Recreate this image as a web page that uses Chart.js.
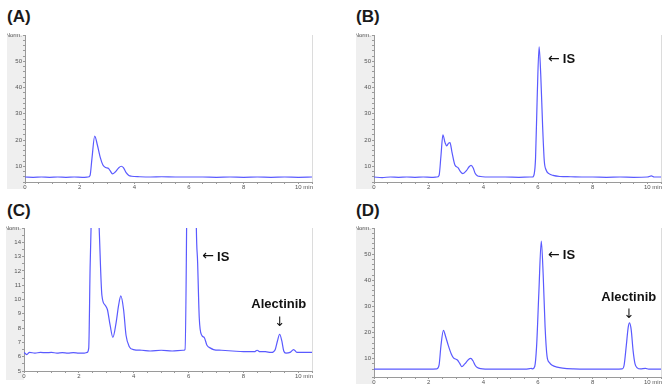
<!DOCTYPE html>
<html>
<head>
<meta charset="utf-8">
<script src="https://cdn.jsdelivr.net/npm/chart.js@4/dist/chart.umd.min.js"></script>
<style>
  html, body { margin: 0; padding: 0; background: #ffffff; }
  body { width: 669px; height: 388px; position: relative; overflow: hidden; font-family: "Liberation Sans", Arial, sans-serif; }
  canvas { position: absolute; }
  .ttl { position: absolute; font: bold 17px "Liberation Sans", Arial, sans-serif; color: #1a1a1a; line-height: 17px; }
</style>
</head>
<body>
<div class="ttl" style="left:7px;top:8px">(A)</div>
<div class="ttl" style="left:356px;top:8px">(B)</div>
<div class="ttl" style="left:7px;top:202px">(C)</div>
<div class="ttl" style="left:356px;top:202px">(D)</div>
<canvas id="cA" width="334" height="194" style="left:0;top:0"></canvas>
<canvas id="cB" width="335" height="194" style="left:334px;top:0"></canvas>
<canvas id="cC" width="334" height="194" style="left:0;top:194px"></canvas>
<canvas id="cD" width="335" height="194" style="left:334px;top:194px"></canvas>
<script>
// ---- data (retention time in min, signal in Norm.) ----
const timesA  = [0,0.3,0.6,0.9,1.2,1.5,1.8,2.1,2.3,2.38,2.45,2.55,2.65,2.75,2.85,2.95,3.05,3.12,3.2,3.3,3.42,3.52,3.6,3.7,3.8,3.9,4.2,4.6,5.0,5.5,6.0,6.5,7.0,7.5,8.0,8.5,9.0,9.5,10.0,10.5];
const valuesA = [5.9,5.8,5.9,5.8,5.9,5.8,5.9,5.8,5.9,6.5,13,21.5,18,13.5,10.5,9.5,9.2,8.2,7.1,7.8,9.3,10,9.5,7.6,6.5,6.2,6.0,5.9,6.0,5.9,5.9,5.9,5.8,5.9,5.8,5.9,5.8,5.9,5.8,5.9];

const timesB  = [0,0.3,0.6,0.9,1.2,1.5,1.8,2.1,2.3,2.38,2.45,2.52,2.6,2.66,2.73,2.78,2.85,2.96,3.08,3.16,3.25,3.38,3.48,3.55,3.63,3.7,3.78,3.9,4.3,4.8,5.3,5.7,5.8,5.86,5.91,5.97,6.04,6.1,6.17,6.23,6.3,6.4,6.55,6.8,7.2,7.6,8.0,8.5,9.0,9.5,10.0,10.15,10.25,10.5];
const valuesB = [5.9,5.7,5.9,5.8,5.9,5.8,5.9,5.8,5.9,6.5,14,22,19,17.8,18.8,19,15.5,10.5,9.4,8.0,7.2,8.3,9.8,10.3,9.3,7.3,6.4,6.1,5.9,5.9,5.8,5.9,5.9,7,13,36,55.5,45,25,12,8.5,7.2,6.5,6.1,6.0,5.9,5.9,5.8,5.9,5.8,5.9,6.3,5.9,5.9];

const timesC  = [0,0.1,0.2,0.4,0.6,0.8,1.0,1.2,1.4,1.6,1.8,2.0,2.2,2.3,2.36,2.41,2.47,2.55,2.65,2.74,2.84,2.96,3.04,3.14,3.24,3.36,3.45,3.53,3.63,3.72,3.84,3.99,4.3,4.6,5.0,5.4,5.8,5.87,5.93,6.0,6.1,6.2,6.28,6.33,6.39,6.48,6.57,6.67,6.8,6.91,7.2,7.6,8.0,8.4,8.5,8.6,8.8,9.0,9.1,9.16,9.24,9.32,9.4,9.47,9.55,9.7,9.83,9.95,10.2,10.5];
const valuesC = [6.3,6.15,6.3,6.25,6.3,6.28,6.3,6.25,6.28,6.25,6.28,6.25,6.25,6.3,6.6,12.2,17,21.5,19,15,10.3,9.6,9.3,8.2,7.35,8.4,9.6,10.25,9.3,7.5,6.7,6.5,6.45,6.4,6.45,6.4,6.45,6.5,15.5,40,55,35,15.5,12.6,8.7,7.5,7.35,6.8,6.6,6.5,6.45,6.4,6.35,6.35,6.45,6.35,6.35,6.3,6.35,6.5,7.1,7.57,7.1,6.4,6.25,6.3,6.5,6.3,6.3,6.3];

const timesD  = [0,0.5,1,1.5,2,2.3,2.38,2.45,2.54,2.62,2.72,2.82,2.9,3.05,3.13,3.21,3.32,3.45,3.54,3.62,3.7,3.78,3.9,4.3,5.0,5.5,5.7,5.75,5.8,5.88,5.95,6.03,6.12,6.19,6.26,6.33,6.42,6.52,6.7,6.9,7.3,7.8,8.3,8.8,9.08,9.15,9.23,9.3,9.35,9.41,9.48,9.55,9.63,9.75,9.93,10.05,10.5];
const valuesD = [6,6,6,6,6,6.1,7.5,15,20.8,18.5,15,12,10.4,9.5,8.3,7.0,8.0,9.6,10.1,9.2,7.5,6.6,6.2,6.0,6.0,6.0,6.2,6.3,6.1,7,15,35,55,42,22,11,8.5,7.5,6.8,6.4,6.1,6.0,6.0,6.0,6.1,7.5,15,22,23.7,21,13,8,6.5,6.1,6.3,6.0,6.0];

// x-axis tick labels (min)
const xTickLabels = [0,2,4,6,8,10];

const LINE = '#5a5aff';
const AXIS = '#9a9a9a';
const TXT = '#555555';
Chart.defaults.font.family = '"Liberation Sans", Arial, sans-serif';

const decor = {
  id: 'decor',
  beforeDraw(chart, args, o) {
    const {ctx, chartArea: a} = chart;
    ctx.save();
    ctx.fillStyle = '#efefef';
    ctx.fillRect(a.left - 18, a.top, 18, a.bottom - a.top + o.bandExtra);
    ctx.strokeStyle = '#dcdcdc';
    ctx.lineWidth = 1;
    ctx.beginPath();
    ctx.moveTo(a.right + 0.5, a.top);
    ctx.lineTo(a.right + 0.5, a.bottom);
    ctx.stroke();
    ctx.restore();
  },
  afterDraw(chart, args, o) {
    const {ctx, chartArea: a, scales} = chart;
    ctx.save();
    ctx.fillStyle = TXT;
    ctx.font = '6px "Liberation Sans", Arial, sans-serif';
    ctx.textAlign = 'right';
    ctx.textBaseline = 'top';
    ctx.fillText('min', a.right + 1, a.bottom + 2);
    (o.notes || []).forEach(n => {
      const px = scales.x.getPixelForValue(n.x);
      const py = scales.y.getPixelForValue(n.y);
      ctx.fillStyle = '#111';
      if (n.kind === 'left') {
        ctx.font = '14px "DejaVu Sans", sans-serif';
        ctx.textAlign = 'left';
        ctx.textBaseline = 'middle';
        ctx.fillText('\u2190', px, py);
        const w = ctx.measureText('\u2190').width;
        ctx.font = 'bold 13px "Liberation Sans", Arial, sans-serif';
        ctx.fillText(n.text, px + w + 3, py + 0.5);
      } else if (n.kind === 'down') {
        ctx.font = 'bold 13px "Liberation Sans", Arial, sans-serif';
        ctx.textAlign = 'center';
        ctx.textBaseline = 'middle';
        ctx.fillText(n.text, px, py);
        const ay = scales.y.getPixelForValue(n.arrowY);
        ctx.font = '13px "DejaVu Sans", sans-serif';
        ctx.textBaseline = 'top';
        ctx.fillText('\u2193', scales.x.getPixelForValue(n.arrowX), ay);
      }
    });
    ctx.restore();
  }
};

function makePanel(id, times, values, cfg) {
  new Chart(document.getElementById(id), {
    type: 'line',
    data: {
      datasets: [{
        data: times.map((t, i) => ({x: t, y: values[i]})),
        borderColor: LINE,
        borderWidth: 1.2,
        pointRadius: 0,
        cubicInterpolationMode: 'monotone',
        fill: false
      }]
    },
    options: {
      responsive: false,
      animation: false,
      devicePixelRatio: 1,
      layout: { padding: cfg.pad },
      plugins: {
        legend: { display: false },
        tooltip: { enabled: false },
        decor: { bandExtra: cfg.bandExtra, notes: cfg.notes }
      },
      scales: {
        x: {
          type: 'linear', min: 0, max: 10.5,
          afterFit: s => { s.height = cfg.xh; },
          ticks: {
            stepSize: 0.5, autoSkip: false, maxRotation: 0, padding: 0,
            font: { size: 6 }, color: TXT,
            callback: v => xTickLabels.includes(v) ? String(v) : ''
          },
          grid: { drawOnChartArea: false, drawTicks: true, tickLength: 2, color: AXIS },
          border: { display: true, color: AXIS }
        },
        y: {
          type: 'linear', min: cfg.ymin, max: cfg.ymax,
          afterFit: s => { s.width = 18; },
          ticks: {
            stepSize: cfg.ystep, autoSkip: false, padding: 1,
            font: { size: 6 }, color: TXT,
            callback: v => v === cfg.ymax ? 'Norm.' : (cfg.yLabels.includes(v) ? String(v) : '')
          },
          grid: { drawOnChartArea: false, drawTicks: true, tickLength: 2, color: AXIS },
          border: { display: true, color: AXIS }
        }
      }
    },
    plugins: [decor]
  });
}

const yLabelsBig = [10, 20, 30, 40, 50];
const yLabelsC = [5, 6, 7, 8, 9, 10, 11, 12, 13, 14];

makePanel('cA', timesA, valuesA, {
  pad: {left: 7, top: 35, right: 22, bottom: 0}, xh: 12, bandExtra: 7,
  ymin: 4, ymax: 60, ystep: 2, yLabels: yLabelsBig, notes: []
});
makePanel('cB', timesB, valuesB, {
  pad: {left: 22, top: 35, right: 8, bottom: 0}, xh: 12, bandExtra: 7,
  ymin: 4, ymax: 60, ystep: 2, yLabels: yLabelsBig,
  notes: [{kind: 'left', text: 'IS', x: 6.37, y: 50.8}]
});
makePanel('cC', timesC, valuesC, {
  pad: {left: 6, top: 34, right: 22, bottom: 0}, xh: 17, bandExtra: 9,
  ymin: 5, ymax: 15, ystep: 0.5, yLabels: yLabelsC,
  notes: [{kind: 'left', text: 'IS', x: 6.5, y: 13.0},
          {kind: 'down', text: 'Alectinib', x: 9.29, y: 9.69, arrowX: 9.32, arrowY: 8.85}]
});
makePanel('cD', timesD, valuesD, {
  pad: {left: 22, top: 34, right: 8, bottom: 0}, xh: 11, bandExtra: 7,
  ymin: 3, ymax: 60, ystep: 2, yLabels: yLabelsBig,
  notes: [{kind: 'left', text: 'IS', x: 6.37, y: 49.6},
          {kind: 'down', text: 'Alectinib', x: 9.32, y: 33.5, arrowX: 9.33, arrowY: 29.4}]
});
</script>
</body>
</html>
